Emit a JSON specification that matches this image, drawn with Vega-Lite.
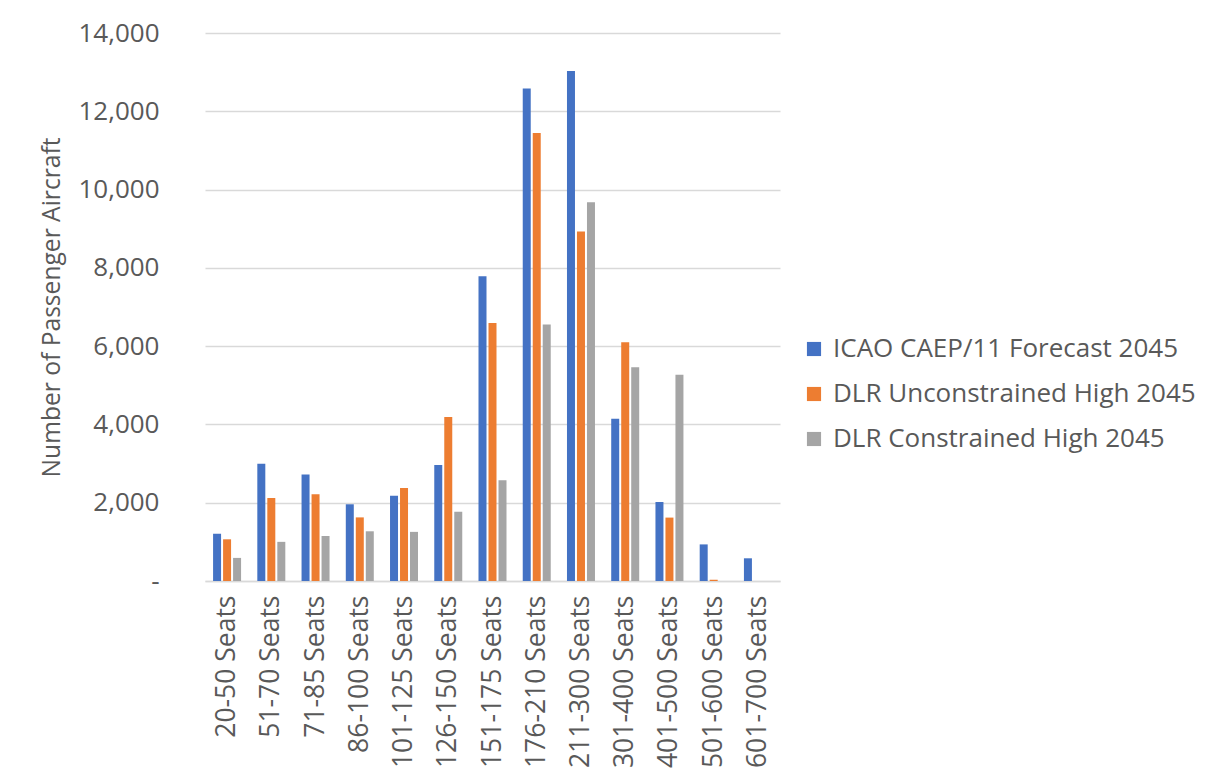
{
  "$schema": "https://vega.github.io/schema/vega-lite/v6.json",
  "width": 575,
  "height": 548,
  "autosize": {"type": "none"},
  "padding": {"left": 205, "top": 33, "right": 425, "bottom": 195},
  "background": "white",
  "config": {
    "font": "Open Sans",
    "view": {"stroke": null},
    "axis": {"labelColor": "#595959", "titleColor": "#595959", "titleFontWeight": "normal"}
  },
  "data": {
    "values": [
      {"seats": "20-50 Seats", "series": "ICAO CAEP/11 Forecast 2045", "aircraft": 1210},
      {"seats": "20-50 Seats", "series": "DLR Unconstrained High 2045", "aircraft": 1065},
      {"seats": "20-50 Seats", "series": "DLR Constrained High 2045", "aircraft": 590},
      {"seats": "51-70 Seats", "series": "ICAO CAEP/11 Forecast 2045", "aircraft": 2995},
      {"seats": "51-70 Seats", "series": "DLR Unconstrained High 2045", "aircraft": 2120},
      {"seats": "51-70 Seats", "series": "DLR Constrained High 2045", "aircraft": 1000},
      {"seats": "71-85 Seats", "series": "ICAO CAEP/11 Forecast 2045", "aircraft": 2720},
      {"seats": "71-85 Seats", "series": "DLR Unconstrained High 2045", "aircraft": 2215},
      {"seats": "71-85 Seats", "series": "DLR Constrained High 2045", "aircraft": 1150},
      {"seats": "86-100 Seats", "series": "ICAO CAEP/11 Forecast 2045", "aircraft": 1960},
      {"seats": "86-100 Seats", "series": "DLR Unconstrained High 2045", "aircraft": 1625},
      {"seats": "86-100 Seats", "series": "DLR Constrained High 2045", "aircraft": 1270},
      {"seats": "101-125 Seats", "series": "ICAO CAEP/11 Forecast 2045", "aircraft": 2180},
      {"seats": "101-125 Seats", "series": "DLR Unconstrained High 2045", "aircraft": 2375},
      {"seats": "101-125 Seats", "series": "DLR Constrained High 2045", "aircraft": 1255},
      {"seats": "126-150 Seats", "series": "ICAO CAEP/11 Forecast 2045", "aircraft": 2965},
      {"seats": "126-150 Seats", "series": "DLR Unconstrained High 2045", "aircraft": 4190},
      {"seats": "126-150 Seats", "series": "DLR Constrained High 2045", "aircraft": 1770},
      {"seats": "151-175 Seats", "series": "ICAO CAEP/11 Forecast 2045", "aircraft": 7785},
      {"seats": "151-175 Seats", "series": "DLR Unconstrained High 2045", "aircraft": 6590},
      {"seats": "151-175 Seats", "series": "DLR Constrained High 2045", "aircraft": 2575},
      {"seats": "176-210 Seats", "series": "ICAO CAEP/11 Forecast 2045", "aircraft": 12580},
      {"seats": "176-210 Seats", "series": "DLR Unconstrained High 2045", "aircraft": 11445},
      {"seats": "176-210 Seats", "series": "DLR Constrained High 2045", "aircraft": 6550},
      {"seats": "211-300 Seats", "series": "ICAO CAEP/11 Forecast 2045", "aircraft": 13030},
      {"seats": "211-300 Seats", "series": "DLR Unconstrained High 2045", "aircraft": 8930},
      {"seats": "211-300 Seats", "series": "DLR Constrained High 2045", "aircraft": 9675},
      {"seats": "301-400 Seats", "series": "ICAO CAEP/11 Forecast 2045", "aircraft": 4145},
      {"seats": "301-400 Seats", "series": "DLR Unconstrained High 2045", "aircraft": 6100},
      {"seats": "301-400 Seats", "series": "DLR Constrained High 2045", "aircraft": 5460},
      {"seats": "401-500 Seats", "series": "ICAO CAEP/11 Forecast 2045", "aircraft": 2020},
      {"seats": "401-500 Seats", "series": "DLR Unconstrained High 2045", "aircraft": 1620},
      {"seats": "401-500 Seats", "series": "DLR Constrained High 2045", "aircraft": 5270},
      {"seats": "501-600 Seats", "series": "ICAO CAEP/11 Forecast 2045", "aircraft": 935},
      {"seats": "501-600 Seats", "series": "DLR Unconstrained High 2045", "aircraft": 30},
      {"seats": "501-600 Seats", "series": "DLR Constrained High 2045", "aircraft": 0},
      {"seats": "601-700 Seats", "series": "ICAO CAEP/11 Forecast 2045", "aircraft": 580},
      {"seats": "601-700 Seats", "series": "DLR Unconstrained High 2045", "aircraft": 0},
      {"seats": "601-700 Seats", "series": "DLR Constrained High 2045", "aircraft": 0}
    ]
  },
  "mark": {"type": "bar"},
  "encoding": {
    "x": {
      "field": "seats",
      "type": "nominal",
      "sort": null,
      "scale": {"paddingInner": 0.322, "paddingOuter": 0.16},
      "axis": {
        "title": null,
        "labelAngle": -90,
        "labelAlign": "right",
        "labelBaseline": "middle",
        "labelFontSize": 26.5,
        "labelPadding": 14,
        "ticks": false,
        "domainColor": "#D9D9D9",
        "domainWidth": 1.3
      }
    },
    "xOffset": {
      "field": "series",
      "type": "nominal",
      "sort": ["ICAO CAEP/11 Forecast 2045", "DLR Unconstrained High 2045", "DLR Constrained High 2045"],
      "scale": {"paddingInner": 0.2, "paddingOuter": 0.1}
    },
    "y": {
      "field": "aircraft",
      "type": "quantitative",
      "scale": {"domain": [0, 14000], "nice": false},
      "axis": {
        "title": "Number of Passenger Aircraft",
        "titleFontSize": 24.6,
        "titlePadding": 13,
        "values": [0, 2000, 4000, 6000, 8000, 10000, 12000, 14000],
        "labelExpr": "datum.value == 0 ? '-' : format(datum.value, ',')",
        "labelFontSize": 26,
        "labelPadding": 46,
        "ticks": false,
        "domain": false,
        "gridColor": "#D9D9D9",
        "gridWidth": 1.3
      }
    },
    "color": {
      "field": "series",
      "type": "nominal",
      "sort": ["ICAO CAEP/11 Forecast 2045", "DLR Unconstrained High 2045", "DLR Constrained High 2045"],
      "scale": {
        "domain": ["ICAO CAEP/11 Forecast 2045", "DLR Unconstrained High 2045", "DLR Constrained High 2045"],
        "range": ["#4472C4", "#ED7D31", "#A5A5A5"]
      },
      "legend": {
        "title": null,
        "orient": "none",
        "legendX": 596,
        "legendY": 303,
        "symbolType": "square",
        "symbolSize": 200,
        "symbolStrokeWidth": 0,
        "labelFontSize": 26,
        "labelColor": "#595959",
        "labelOffset": 6,
        "rowPadding": 19,
        "labelLimit": 420
      }
    }
  }
}
